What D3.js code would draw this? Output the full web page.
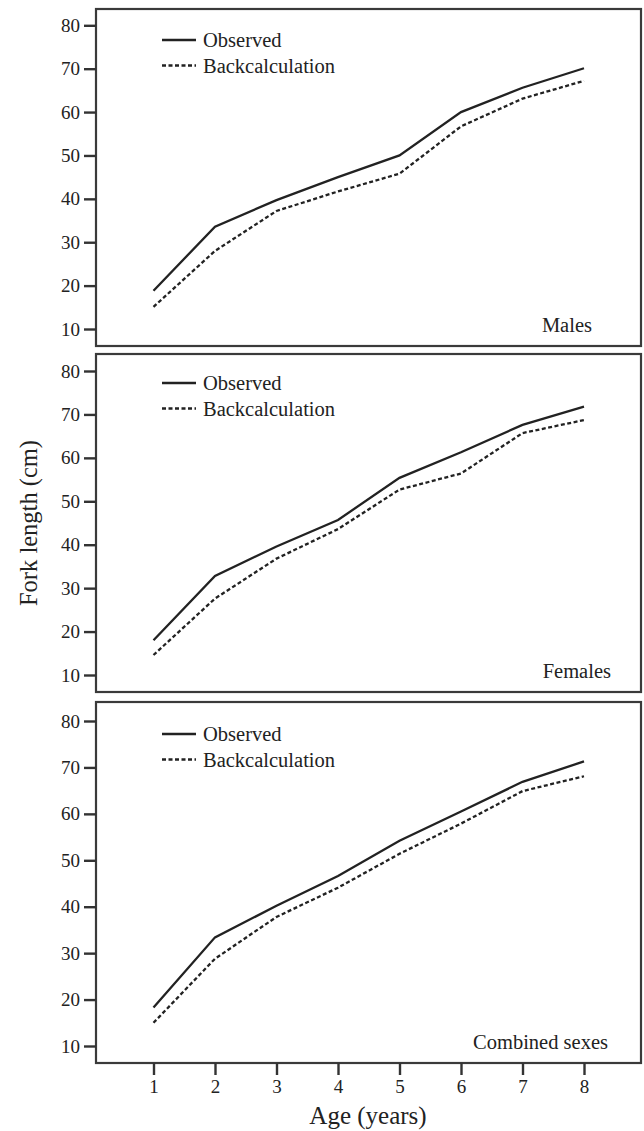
<!DOCTYPE html>
<html><head><meta charset="utf-8">
<script src="https://cdn.jsdelivr.net/npm/d3@7/dist/d3.min.js"></script>
<style>body{margin:0;background:#fff}svg{display:block}text{font-family:"Liberation Serif","Times New Roman",serif !important;fill:#222}</style>
</head><body>
<script>
const ages = [1, 2, 3, 4, 5, 6, 7, 8];
const yTicks = [10, 20, 30, 40, 50, 60, 70, 80];
const panelLabels = ["Males", "Females", "Combined sexes"];
const seriesNames = ["Observed", "Backcalculation"];
const malesObserved = [18.8, 33.6, 39.7, 45.0, 50.0, 60.0, 65.6, 70.1];
const malesBack = [15.1, 28.0, 37.2, 41.7, 45.8, 56.7, 63.1, 67.2];
const femalesObserved = [18.0, 32.8, 39.6, 45.7, 55.4, 61.3, 67.6, 71.8];
const femalesBack = [14.6, 27.6, 36.8, 43.6, 52.7, 56.4, 65.7, 68.7];
const combinedObserved = [18.3, 33.4, 40.2, 46.6, 54.2, 60.5, 66.9, 71.3];
const combinedBack = [15.0, 28.8, 37.8, 44.1, 51.4, 57.9, 64.9, 68.1];

const W = 644, H = 1131;
const svg = d3.select("body").append("svg").attr("width", W).attr("height", H);
const FONT = '"Liberation Serif","Times New Roman",serif';

const frameL = 96, frameR = 641;
const panels = [
  {label: panelLabels[0], obs: malesObserved, back: malesBack, top: 9, bottom: 346, y10: 329, y80: 25.3, legY: 40},
  {label: panelLabels[1], obs: femalesObserved, back: femalesBack, top: 354, bottom: 692, y10: 675, y80: 371, legY: 383},
  {label: panelLabels[2], obs: combinedObserved, back: combinedBack, top: 702, bottom: 1063, y10: 1046, y80: 721, legY: 734}
];

const x = d3.scaleLinear().domain([1, 8]).range([153.5, 584]);

panels.forEach((p, i) => {
  const y = d3.scaleLinear().domain([10, 80]).range([p.y10, p.y80]);
  const g = svg.append("g");
  g.append("rect").attr("x", frameL).attr("y", p.top)
    .attr("width", frameR - frameL).attr("height", p.bottom - p.top)
    .attr("fill", "none").attr("stroke", "#3a3a3a").attr("stroke-width", 2.2);

  const ax = g.append("g").attr("transform", `translate(${frameL},0)`)
    .call(d3.axisLeft(y).tickValues(yTicks).tickSize(12).tickPadding(4));
  ax.attr("font-family", FONT);
  ax.select(".domain").remove();
  ax.selectAll(".tick line").attr("stroke", "#333").attr("stroke-width", 2.4);
  ax.selectAll(".tick text").style("font-size", "19px").attr("fill", "#222")
    .style("font-family", FONT);

  const line = d3.line().x((d, j) => x(ages[j])).y(d => y(d));
  g.append("path").datum(p.obs).attr("d", line).attr("fill", "none")
    .attr("stroke", "#222").attr("stroke-width", 2.3);
  g.append("path").datum(p.back).attr("d", line).attr("fill", "none")
    .attr("stroke", "#222").attr("stroke-width", 2.3).attr("stroke-dasharray", "4,2.5");

  // legend
  const lg = g.append("g");
  [0, 1].forEach(k => {
    const ly = p.legY + k * 25.5;
    lg.append("line").attr("x1", 162).attr("x2", 196).attr("y1", ly).attr("y2", ly)
      .attr("stroke", "#222").attr("stroke-width", 2.3)
      .attr("stroke-dasharray", k === 1 ? "4,2.5" : null);
    lg.append("text").attr("x", 203).attr("y", ly).attr("dy", "0.35em")
      .style("font-family", FONT).style("font-size", "20.5px").text(seriesNames[k]);
  });

  g.append("text").attr("x", i === 2 ? 608 : (i === 1 ? 611 : 592))
    .attr("y", p.bottom - 14).attr("text-anchor", "end")
    .style("font-family", FONT).style("font-size", "20.5px").text(p.label);

  if (i === 2) {
    const xa = g.append("g").attr("transform", `translate(0,${p.bottom})`)
      .call(d3.axisBottom(x).tickValues(ages).tickSize(12).tickPadding(5).tickFormat(d3.format("d")));
    xa.attr("font-family", FONT);
    xa.select(".domain").remove();
    xa.selectAll(".tick line").attr("stroke", "#333").attr("stroke-width", 2.4);
    xa.selectAll(".tick text").style("font-size", "19px").attr("fill", "#222")
      .style("font-family", FONT);
  }
});

svg.append("text").attr("x", 368).attr("y", 1124).attr("text-anchor", "middle")
  .style("font-family", FONT).style("font-size", "25px").text("Age (years)");
svg.append("text").attr("transform", "translate(37,523) rotate(-90)")
  .attr("text-anchor", "middle").style("font-family", FONT).style("font-size", "24.5px").text("Fork length (cm)");
</script>
</body></html>
